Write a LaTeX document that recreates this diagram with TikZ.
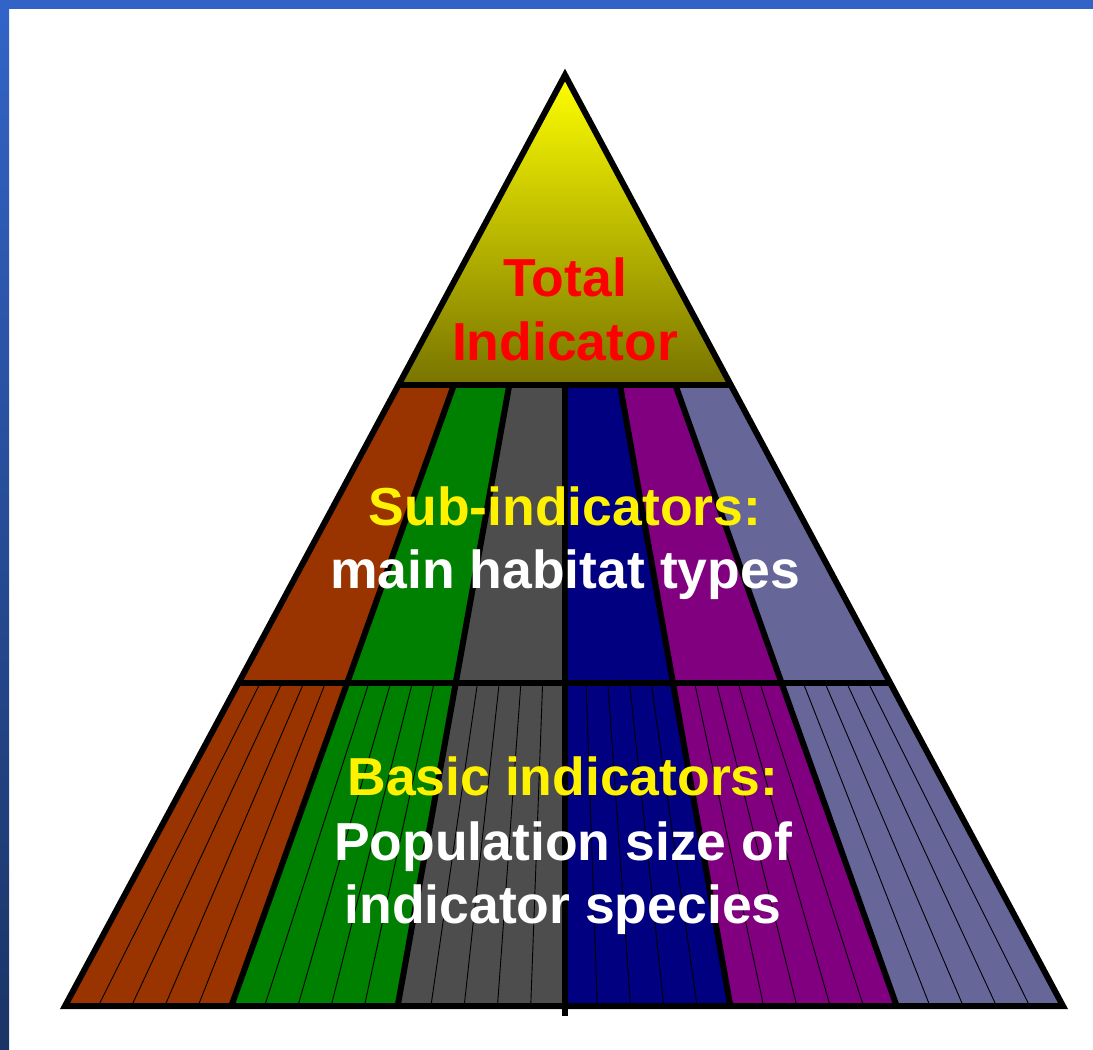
\documentclass[tikz,border=0pt]{standalone}
\usepackage{fontspec}
\setmainfont{Liberation Sans}
\definecolor{frameblue}{RGB}{50,100,200}
\definecolor{framedark}{RGB}{27,52,102}
\definecolor{oliveend}{RGB}{120,116,0}
\definecolor{cbrown}{RGB}{153,51,0}
\definecolor{cgreen}{RGB}{0,128,0}
\definecolor{cgray}{RGB}{77,77,77}
\definecolor{cnavy}{RGB}{0,0,128}
\definecolor{cpurple}{RGB}{128,0,128}
\definecolor{cslate}{RGB}{102,102,153}
\begin{document}
\begin{tikzpicture}[x=1pt,y=-1pt,line join=miter,
  thickline/.style={line width=6pt,draw=black},
  thinline/.style={line width=0.9pt,draw=black},
  lbl/.style={font=\bfseries\fontsize{53.5}{64}\selectfont,anchor=base,inner sep=0pt}]
\useasboundingbox (0,0) rectangle (1093,1050);
\fill[white] (0,0) rectangle (1093,1050);
\shade[top color=frameblue,bottom color=framedark] (0,0) rectangle (9,1050);
\fill[frameblue] (0,0) rectangle (1093,9);
% top triangle
\shade[top color=yellow,bottom color=oliveend] (565,75) -- (730.8,385) -- (398.5,385) -- cycle;
% bands
\foreach \i/\col in {0/cbrown,1/cgreen,2/cgray,3/cnavy,4/cpurple,5/cslate} {
  \pgfmathsetmacro\ta{398.5+\i*(730.8-398.5)/6}
  \pgfmathsetmacro\tb{398.5+(\i+1)*(730.8-398.5)/6}
  \pgfmathsetmacro\ma{238.5+\i*(890.2-238.5)/6}
  \pgfmathsetmacro\mb{238.5+(\i+1)*(890.2-238.5)/6}
  \pgfmathsetmacro\ba{65+\i*(1063-65)/6}
  \pgfmathsetmacro\bb{65+(\i+1)*(1063-65)/6}
  \fill[\col] (\ta,385) -- (\tb,385) -- (\mb,683) -- (\ma,683) -- cycle;
  \fill[\col] (\ma,683) -- (\mb,683) -- (\bb,1006) -- (\ba,1006) -- cycle;
  \foreach \j in {1,...,4} {
    \pgfmathsetmacro\u{\ma+\j*(\mb-\ma)/5}
    \pgfmathsetmacro\v{\ba+\j*(\bb-\ba)/5}
    \draw[thinline] (\u,683) -- (\v,1006);
  }
}
% thick dividers
\foreach \i in {1,2,4,5} {
  \pgfmathsetmacro\ta{398.5+\i*(730.8-398.5)/6}
  \pgfmathsetmacro\ma{238.5+\i*(890.2-238.5)/6}
  \pgfmathsetmacro\ba{65+\i*(1063-65)/6}
  \draw[thickline] (\ta,385) -- (\ma,683) -- (\ba,1006);
}
\draw[thickline] (565,385) -- (565,1016);
\draw[thickline] (398.5,385) -- (730.8,385);
\draw[thickline] (238.5,683) -- (890.2,683);
\draw[thickline] (565,75) -- (1063,1006) -- (65,1006) -- cycle;
% labels
\node[lbl,red] (total) at (565,296) {Total};
\node[lbl,red] (indic) at (565,360) {Indicator};
\node[lbl,yellow] (sub) at (565,525) {Sub-indicators:};
\node[lbl,white] (main) at (565,588) {main habitat types};
\node[lbl,yellow] (basic) at (563,795) {Basic indicators:};
\node[lbl,white] (pop) at (563,860) {Population size of};
\node[lbl,white] (spec) at (563,923) {indicator species};
\end{tikzpicture}
\end{document}
